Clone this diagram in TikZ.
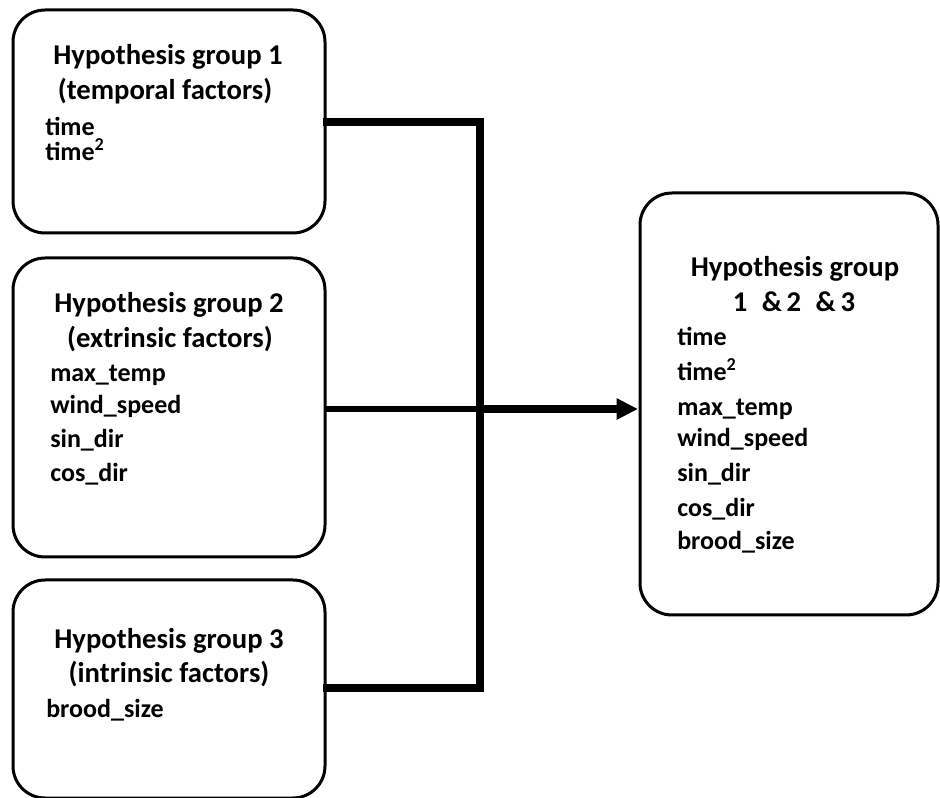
\documentclass[tikz,border=0pt]{standalone}
\usepackage{fontspec}
\setmainfont{Carlito}
\usetikzlibrary{arrows.meta}
\begin{document}
\begin{tikzpicture}[x=0.75pt,y=-0.75pt,
  box/.style={draw=black,line width=2.25pt,rounded corners=24pt,inner sep=0pt,fill=white},
  ttl/.style={anchor=base,inner sep=0pt,font=\bfseries\fontsize{21.5pt}{24pt}\selectfont},
  itm/.style={anchor=base west,inner sep=0pt,font=\bfseries\fontsize{19.5pt}{22pt}\selectfont},
  conn/.style={line width=6pt,line join=miter,line cap=rect},
  connthin/.style={line width=4.5pt}]
\useasboundingbox (0,0) rectangle (940,798);
\fill[white] (0,0) rectangle (940,798);
% boxes
\node[box,minimum width=312*0.75pt,minimum height=223*0.75pt] (b1) at (169,121.5) {};
\node[box,minimum width=312*0.75pt,minimum height=299*0.75pt] (b2) at (169,407.5) {};
\node[box,minimum width=312*0.75pt,minimum height=218*0.75pt] (b3) at (169,689) {};
\node[box,minimum width=298*0.75pt,minimum height=422*0.75pt] (r) at (789,404) {};
% junctions
\coordinate (j1) at (480,122);
\coordinate (j3) at (480,688);
\coordinate (jm) at (480,409);
\coordinate (s2) at (325,409);
\coordinate (tip) at (638,409);
% connectors
\draw[conn] (b1.east |- j1) -- (j1) -- (j3) -- (b3.east |- j3);
\draw[connthin] (s2) -- (jm);
\draw[conn,line cap=butt,-{Triangle[length=16pt,width=15pt]}] (jm) -- (tip);
% box 1 text
\node[ttl] (t1a) at (168,65) {Hypothesis group 1};
\node[ttl] (t1b) at (165,100) {(temporal factors)};
\node[itm] (t1c) at (45,136) {time};
\node[itm] (t1d) at (45,161) {time\textsuperscript{2}};
% box 2 text
\node[ttl] (t2a) at (169,313) {Hypothesis group 2};
\node[ttl] (t2b) at (170,348) {(extrinsic factors)};
\node[itm] (t2c) at (50,382) {max\_temp};
\node[itm] (t2d) at (50,414) {wind\_speed};
\node[itm] (t2e) at (50,448) {sin\_dir};
\node[itm] (t2f) at (50,482) {cos\_dir};
% box 3 text
\node[ttl] (t3a) at (169,648) {Hypothesis group 3};
\node[ttl] (t3b) at (169,683) {(intrinsic factors)};
\node[itm] (t3c) at (46,718) {brood\_size};
% right box text
\node[ttl] (ra) at (795,277) {Hypothesis group};
\node[ttl] (rb) at (794,312) {1\enspace\&\,2\enspace\&\,3};
\node[itm] (rc) at (677,346) {time};
\node[itm] (rd) at (677,381) {time\textsuperscript{2}};
\node[itm] (re) at (677,416) {max\_temp};
\node[itm] (rf) at (677,447) {wind\_speed};
\node[itm] (rg) at (677,482) {sin\_dir};
\node[itm] (rh) at (677,517) {cos\_dir};
\node[itm] (ri) at (677,550) {brood\_size};
\end{tikzpicture}
\end{document}
